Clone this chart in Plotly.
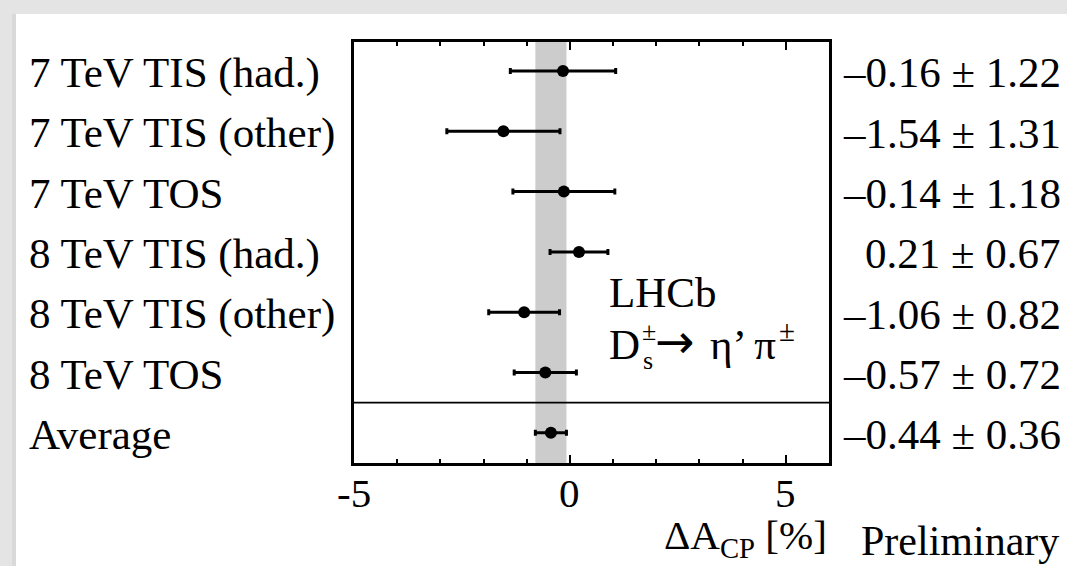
import plotly.graph_objects as go

# Measurements of the CP asymmetry difference, one per trigger/data-taking category
categories = [
    "7 TeV TIS (had.)",
    "7 TeV TIS (other)",
    "7 TeV TOS",
    "8 TeV TIS (had.)",
    "8 TeV TIS (other)",
    "8 TeV TOS",
    "Average",
]
values = [-0.16, -1.54, -0.14, 0.21, -1.06, -0.57, -0.44]
errors = [1.22, 1.31, 1.18, 0.67, 0.82, 0.72, 0.36]

x_tick_vals = [-5, 0, 5]
x_tick_text = ["-5", "0", "5"]

# Figure geometry (pixels)
FIG_W, FIG_H = 1067, 566
L, R, T, B = 354, 829, 42, 463
W, H = R - L, B - T

FONT = "Liberation Serif"


def px(x):
    return (x - L) / W


def py(y):
    return (B - y) / H


def fmt(v):
    s = f"{abs(v):.2f}"
    return ("\u2013" + s) if v < 0 else s


n = len(categories)
rows = list(range(n - 1, -1, -1))  # first category at top, average at the bottom

avg, avg_err = values[-1], errors[-1]

fig = go.Figure()
fig.add_trace(
    go.Scatter(
        x=values,
        y=rows,
        mode="markers",
        marker=dict(color="black", size=12),
        error_x=dict(type="data", array=errors, color="black", thickness=3, width=3),
        showlegend=False,
        hoverinfo="skip",
    )
)

shapes = [
    # white page area inside the grey frame
    dict(type="rect", xref="paper", yref="paper",
         x0=px(16), x1=px(FIG_W + 5), y0=py(FIG_H + 5), y1=py(14),
         fillcolor="white", line=dict(width=0), layer="below"),
    # soft shadow at the left frame edge
    dict(type="rect", xref="paper", yref="paper",
         x0=px(12), x1=px(16), y0=py(FIG_H + 5), y1=py(14),
         fillcolor="#d9d9d9", line=dict(width=0), layer="below"),
    # band of the average value
    dict(type="rect", xref="x", yref="paper",
         x0=avg - avg_err, x1=avg + avg_err, y0=0, y1=1,
         fillcolor="#cccccc", line=dict(width=0), layer="below"),
    # separator above the average
    dict(type="line", xref="paper", yref="y", x0=0, x1=1, y0=0.5, y1=0.5,
         line=dict(color="black", width=1.8)),
]

label_font = dict(family=FONT, size=43, color="black")
annotations = []
for cat, v, e, r in zip(categories, values, errors, rows):
    annotations.append(dict(
        x=px(27), xref="paper", y=r, yref="y", xanchor="left", yanchor="middle",
        yshift=-2, text=cat, showarrow=False, font=label_font,
    ))
    annotations.append(dict(
        x=px(1063), xref="paper", y=r, yref="y", xanchor="right", yanchor="middle",
        yshift=-2, text=f"{fmt(v)} \u00b1 {e:.2f}", showarrow=False, font=label_font,
    ))

# x tick labels
for tv, tt in zip(x_tick_vals, x_tick_text):
    annotations.append(dict(
        x=tv, xref="x", y=py(493), yref="paper", xanchor="center", yanchor="middle",
        text=tt, showarrow=False, font=dict(family=FONT, size=41, color="black"),
    ))

big = dict(family=FONT, size=43, color="black")
small = dict(family=FONT, size=26, color="black")
annotations += [
    dict(x=px(607), xref="paper", y=py(292), yref="paper", xanchor="left", yanchor="middle",
         text="LHCb", showarrow=False, font=big),
    dict(x=px(607), xref="paper", y=py(344), yref="paper", xanchor="left", yanchor="middle",
         text="D", showarrow=False, font=big),
    dict(x=px(640), xref="paper", y=py(331), yref="paper", xanchor="left", yanchor="middle",
         text="\u00b1", showarrow=False, font=small),
    dict(x=px(641), xref="paper", y=py(360), yref="paper", xanchor="left", yanchor="middle",
         text="s", showarrow=False, font=small),
    dict(x=px(653), xref="paper", y=py(342), yref="paper", xanchor="left", yanchor="middle",
         text="\u2192", showarrow=False, font=dict(family="DejaVu Sans", size=47, color="black")),
    dict(x=px(708), xref="paper", y=py(344), yref="paper", xanchor="left", yanchor="middle",
         text="\u03b7\u2019 \u03c0", showarrow=False, font=big),
    dict(x=px(777), xref="paper", y=py(331), yref="paper", xanchor="left", yanchor="middle",
         text="\u00b1", showarrow=False, font=dict(family=FONT, size=29, color="black")),
    # axis title and preliminary tag
    dict(x=px(829), xref="paper", y=py(538), yref="paper", xanchor="right", yanchor="middle",
         text="\u0394A<sub>CP</sub> [%]", showarrow=False,
         font=dict(family=FONT, size=41, color="black")),
    dict(x=px(1061), xref="paper", y=py(541), yref="paper", xanchor="right", yanchor="middle",
         text="Preliminary", showarrow=False,
         font=dict(family=FONT, size=42, color="black")),
]

fig.update_layout(
    width=FIG_W,
    height=FIG_H,
    margin=dict(l=L, r=FIG_W - R, t=T, b=FIG_H - B, autoexpand=False),
    paper_bgcolor="#e4e4e4",
    plot_bgcolor="rgba(0,0,0,0)",
    shapes=shapes,
    annotations=annotations,
    font=dict(family=FONT, color="black"),
    showlegend=False,
)

fig.update_xaxes(
    range=[-5, 6],
    tickvals=x_tick_vals,
    showticklabels=False,
    ticks="inside",
    ticklen=8,
    tickwidth=2,
    tickcolor="black",
    minor=dict(dtick=1, tick0=0, ticks="inside", ticklen=4, tickwidth=2, tickcolor="black"),
    showline=True,
    linecolor="black",
    linewidth=2.5,
    mirror="ticks",
    showgrid=False,
    zeroline=False,
)
fig.update_yaxes(
    range=[-0.5, 6.48],
    showticklabels=False,
    ticks="",
    showline=True,
    linecolor="black",
    linewidth=2.5,
    mirror=True,
    showgrid=False,
    zeroline=False,
)

fig.write_html("out.html")
